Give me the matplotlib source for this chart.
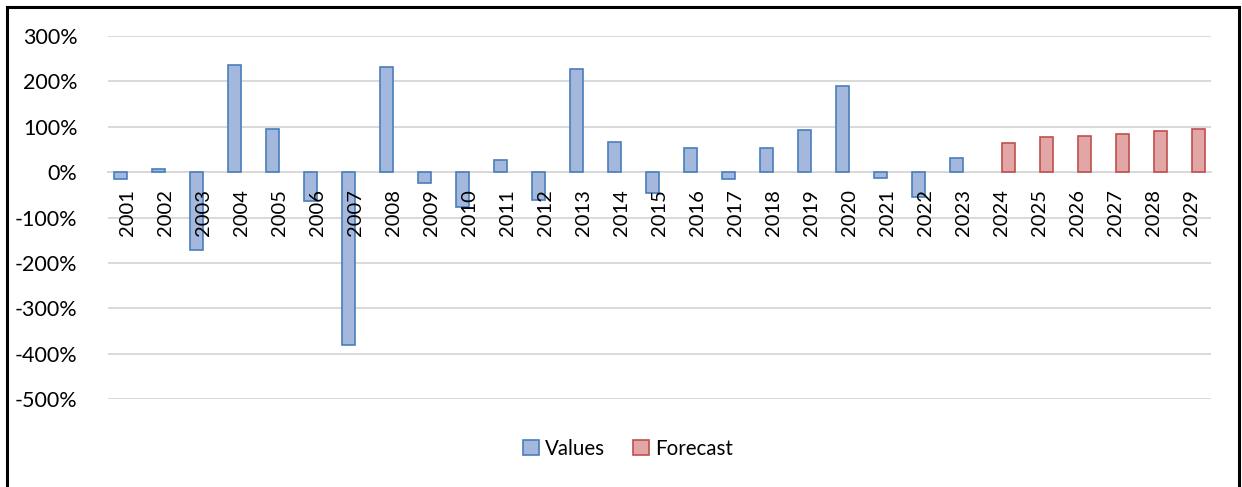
import numpy as np
import matplotlib.pyplot as plt
from matplotlib.patches import Rectangle
from matplotlib.ticker import FuncFormatter

plt.rcParams['font.family'] = ['Lato', 'DejaVu Sans']

years = [str(y) for y in range(2001, 2030)]
values = [-15, 7, -171, 237, 95, -64, -380, 231, -25, -76, 26, -61, 228, 67,
          -45, 53, -16, 54, 93, 190, -13, -55, 32]
forecast = [65, 77, 79, 85, 90, 95]

# pad each series to the full category list (Excel style side-by-side clusters)
values_full = values + [np.nan] * len(forecast)
forecast_full = [np.nan] * len(values) + forecast

fig = plt.figure(figsize=(12.42, 4.87), dpi=100)
ax = fig.add_axes([108 / 1242, 1 - 399 / 487, (1211 - 108) / 1242, (399 - 36) / 487])

x = np.arange(len(years))
w = 0.34
ax.bar(x - 0.18, values_full, w, color='#a3b8dc', edgecolor='#4a7ebb', linewidth=1.2, label='Values', zorder=3)
ax.bar(x + 0.18, forecast_full, w, color='#e1a6a5', edgecolor='#c0504d', linewidth=1.2, label='Forecast', zorder=3)

ax.set_xlim(-0.5, len(years) - 0.5)
ax.set_ylim(-500, 300)
ax.set_yticks(range(-500, 301, 100))
ax.yaxis.set_major_formatter(FuncFormatter(lambda v, p: f'{int(v)}%'))
ax.set_axisbelow(True)
ax.grid(axis='y', color='#d9d9d9', linewidth=1.4)
# year labels sit on top of the bars, like in Excel
ax.xaxis.set_zorder(5)

for s in ['top', 'right', 'left']:
    ax.spines[s].set_visible(False)
ax.spines['bottom'].set_position(('data', 0))
ax.spines['bottom'].set_color('#d9d9d9')
ax.spines['bottom'].set_linewidth(1.4)
ax.spines['bottom'].set_zorder(1)

ax.set_xticks(x)
ax.set_xticklabels(years, rotation=90, va='top', ha='center')
ax.tick_params(axis='x', length=0, pad=12, labelsize=14.5)
ax.tick_params(axis='y', length=0, pad=22, labelsize=15.5)

fig.legend(loc='center', bbox_to_anchor=(628 / 1242, 1 - 449 / 487), ncol=2, frameon=False,
           fontsize=14.8, handlelength=0.75, handleheight=0.75, handletextpad=0.3,
           columnspacing=1.4)

# outer chart border (bottom edge falls outside the picture)
fig.patches.append(Rectangle((7 / 1242, -0.05), (1239 - 7) / 1242, 1 - 7 / 487 + 0.05,
                             transform=fig.transFigure, fill=False, edgecolor='black',
                             linewidth=2.2))

fig.savefig('out.png', dpi=100)
